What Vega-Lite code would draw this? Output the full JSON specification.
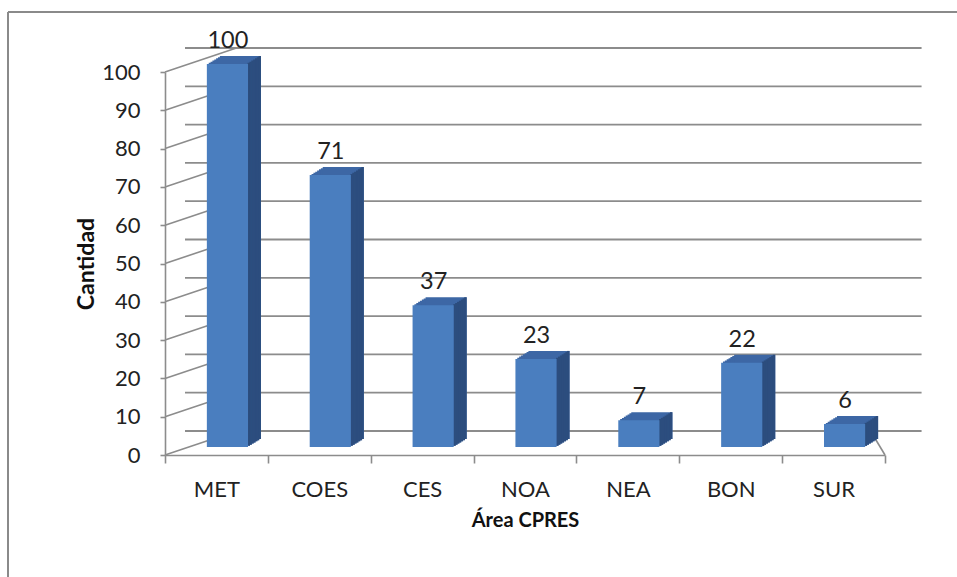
{
  "$schema": "https://vega.github.io/schema/vega-lite/v6.json",
  "width": 720,
  "height": 383,
  "autosize": {"type": "none"},
  "padding": {"left": 165, "top": 72, "right": 72, "bottom": 122},
  "background": "white",
  "config": {
    "view": {"stroke": null},
    "font": "Lato",
    "axis": {"labelFont": "Lato", "titleFont": "Lato", "labelColor": "#222222", "titleColor": "#111111"},
    "axisY": {"labelOverlap": false, "labelFontSize": 22}
  },
  "datasets": {
    "bars": [
      {"area": "MET", "n": 100},
      {"area": "COES", "n": 71},
      {"area": "CES", "n": 37},
      {"area": "NOA", "n": 23},
      {"area": "NEA", "n": 7},
      {"area": "BON", "n": 22},
      {"area": "SUR", "n": 6}
    ],
    "grid": [
      {"v": 0}, {"v": 10}, {"v": 20}, {"v": 30}, {"v": 40}, {"v": 50},
      {"v": 60}, {"v": 70}, {"v": 80}, {"v": 90}, {"v": 100}
    ],
    "one": [{"k": 1}]
  },
  "layer": [
    {
      "data": {"name": "grid"},
      "mark": {"type": "rule", "color": "#8c8c8c", "strokeWidth": 1.8, "xOffset": 20, "x2Offset": 88, "yOffset": -24},
      "encoding": {
        "x": {"datum": "MET", "type": "nominal", "bandPosition": 0},
        "x2": {"datum": "SUR"},
        "y": {"field": "v", "type": "quantitative"}
      }
    },
    {
      "data": {"name": "grid"},
      "mark": {"type": "rule", "color": "#8c8c8c", "strokeWidth": 1.6, "x2Offset": 20, "y2Offset": -24},
      "encoding": {
        "x": {"datum": "MET", "type": "nominal", "bandPosition": 0},
        "x2": {"datum": "MET"},
        "y": {"field": "v", "type": "quantitative"},
        "y2": {"field": "v"}
      }
    },
    {
      "data": {"name": "one"},
      "mark": {"type": "rule", "color": "#8c8c8c", "strokeWidth": 1.6, "x2Offset": 37, "y2Offset": -24},
      "encoding": {
        "x": {"datum": "SUR", "type": "nominal", "bandPosition": 1},
        "x2": {"datum": "SUR"},
        "y": {"datum": 0, "type": "quantitative"},
        "y2": {"datum": 0}
      }
    },
    {
      "data": {"name": "one"},
      "mark": {"type": "rule", "color": "#8a8a8a", "strokeWidth": 2, "xOffset": -157, "yOffset": -60, "y2Offset": 130},
      "encoding": {
        "x": {"datum": "MET", "type": "nominal", "bandPosition": 0},
        "y": {"datum": 100, "type": "quantitative"},
        "y2": {"datum": 0}
      }
    },
    {
      "data": {"name": "one"},
      "mark": {"type": "rule", "color": "#8a8a8a", "strokeWidth": 2, "xOffset": -157, "x2Offset": 200, "yOffset": -60},
      "encoding": {
        "x": {"datum": "MET", "type": "nominal", "bandPosition": 0},
        "x2": {"datum": "SUR"},
        "y": {"datum": 100, "type": "quantitative"}
      }
    },
    {
      "data": {"name": "bars"},
      "mark": {"type": "bar", "color": "#3d67a5", "width": {"band": 0.4}, "xOffset": 12.86, "yOffset": -9.14, "y2Offset": -9.14},
      "encoding": {"x": {"field": "area", "type": "nominal"}, "y": {"field": "n", "type": "quantitative"}, "y2": {"datum": 0}}
    },
    {
      "data": {"name": "bars"},
      "mark": {"type": "bar", "color": "#3d67a5", "width": {"band": 0.4}, "xOffset": 14.71, "yOffset": -10.29, "y2Offset": -10.29},
      "encoding": {"x": {"field": "area", "type": "nominal"}, "y": {"field": "n", "type": "quantitative"}, "y2": {"datum": 0}}
    },
    {
      "data": {"name": "bars"},
      "mark": {"type": "bar", "color": "#3d67a5", "width": {"band": 0.4}, "xOffset": 16.57, "yOffset": -11.43, "y2Offset": -11.43},
      "encoding": {"x": {"field": "area", "type": "nominal"}, "y": {"field": "n", "type": "quantitative"}, "y2": {"datum": 0}}
    },
    {
      "data": {"name": "bars"},
      "mark": {"type": "bar", "color": "#3d67a5", "width": {"band": 0.4}, "xOffset": 18.43, "yOffset": -12.57, "y2Offset": -12.57},
      "encoding": {"x": {"field": "area", "type": "nominal"}, "y": {"field": "n", "type": "quantitative"}, "y2": {"datum": 0}}
    },
    {
      "data": {"name": "bars"},
      "mark": {"type": "bar", "color": "#3d67a5", "width": {"band": 0.4}, "xOffset": 20.29, "yOffset": -13.71, "y2Offset": -13.71},
      "encoding": {"x": {"field": "area", "type": "nominal"}, "y": {"field": "n", "type": "quantitative"}, "y2": {"datum": 0}}
    },
    {
      "data": {"name": "bars"},
      "mark": {"type": "bar", "color": "#3d67a5", "width": {"band": 0.4}, "xOffset": 22.14, "yOffset": -14.86, "y2Offset": -14.86},
      "encoding": {"x": {"field": "area", "type": "nominal"}, "y": {"field": "n", "type": "quantitative"}, "y2": {"datum": 0}}
    },
    {
      "data": {"name": "bars"},
      "mark": {"type": "bar", "color": "#3d67a5", "width": {"band": 0.4}, "xOffset": 24, "yOffset": -16, "y2Offset": -16},
      "encoding": {"x": {"field": "area", "type": "nominal"}, "y": {"field": "n", "type": "quantitative"}, "y2": {"datum": 0}}
    },
    {
      "data": {"name": "bars"},
      "mark": {"type": "bar", "color": "#2c4d7e", "width": 2.4, "xOffset": 32.36, "yOffset": -9.14, "y2Offset": -9.14},
      "encoding": {"x": {"field": "area", "type": "nominal"}, "y": {"field": "n", "type": "quantitative"}, "y2": {"datum": 0}}
    },
    {
      "data": {"name": "bars"},
      "mark": {"type": "bar", "color": "#2c4d7e", "width": 2.4, "xOffset": 34.21, "yOffset": -10.29, "y2Offset": -10.29},
      "encoding": {"x": {"field": "area", "type": "nominal"}, "y": {"field": "n", "type": "quantitative"}, "y2": {"datum": 0}}
    },
    {
      "data": {"name": "bars"},
      "mark": {"type": "bar", "color": "#2c4d7e", "width": 2.4, "xOffset": 36.07, "yOffset": -11.43, "y2Offset": -11.43},
      "encoding": {"x": {"field": "area", "type": "nominal"}, "y": {"field": "n", "type": "quantitative"}, "y2": {"datum": 0}}
    },
    {
      "data": {"name": "bars"},
      "mark": {"type": "bar", "color": "#2c4d7e", "width": 2.4, "xOffset": 37.93, "yOffset": -12.57, "y2Offset": -12.57},
      "encoding": {"x": {"field": "area", "type": "nominal"}, "y": {"field": "n", "type": "quantitative"}, "y2": {"datum": 0}}
    },
    {
      "data": {"name": "bars"},
      "mark": {"type": "bar", "color": "#2c4d7e", "width": 2.4, "xOffset": 39.79, "yOffset": -13.71, "y2Offset": -13.71},
      "encoding": {"x": {"field": "area", "type": "nominal"}, "y": {"field": "n", "type": "quantitative"}, "y2": {"datum": 0}}
    },
    {
      "data": {"name": "bars"},
      "mark": {"type": "bar", "color": "#2c4d7e", "width": 2.4, "xOffset": 41.64, "yOffset": -14.86, "y2Offset": -14.86},
      "encoding": {"x": {"field": "area", "type": "nominal"}, "y": {"field": "n", "type": "quantitative"}, "y2": {"datum": 0}}
    },
    {
      "data": {"name": "bars"},
      "mark": {"type": "bar", "color": "#2c4d7e", "width": 2.4, "xOffset": 43.3, "yOffset": -16, "y2Offset": -16},
      "encoding": {"x": {"field": "area", "type": "nominal"}, "y": {"field": "n", "type": "quantitative"}, "y2": {"datum": 0}}
    },
    {
      "data": {"name": "bars"},
      "mark": {"type": "bar", "color": "#4a7ebf", "width": {"band": 0.4}, "xOffset": 11, "yOffset": -8, "y2Offset": -8},
      "encoding": {
        "x": {
          "field": "area", "type": "nominal",
          "scale": {"domain": ["MET", "COES", "CES", "NOA", "NEA", "BON", "SUR"], "paddingInner": 0, "paddingOuter": 0},
          "axis": {
            "title": "Área CPRES", "titleFontSize": 20, "titleFontWeight": "bold", "titlePadding": 10,
            "labelFontSize": 22, "labelAngle": 0, "labelAlign": "center", "labelPadding": 26,
            "domainColor": "#8c8c8c", "domainWidth": 1.6, "tickColor": "#8c8c8c", "tickWidth": 1.6, "tickSize": 8,
            "tickBand": "extent"
          }
        },
        "y": {
          "field": "n", "type": "quantitative",
          "scale": {"domain": [0, 100], "nice": false},
          "axis": {
            "title": "Cantidad", "titleFontSize": 23, "titleFontWeight": "bold", "titlePadding": 3,
            "labelFontSize": 22, "labelPadding": 20, "labelOverlap": false, "tickCount": 11, "values": [0, 10, 20, 30, 40, 50, 60, 70, 80, 90, 100],
            "grid": false,
            "domainColor": "#8c8c8c", "domainWidth": 1.6, "tickColor": "#8c8c8c", "tickWidth": 1.6, "tickSize": 5
          }
        },
        "y2": {"datum": 0}
      }
    },
    {
      "data": {"name": "bars"},
      "mark": {"type": "text", "fontSize": 23.5, "color": "#222222", "baseline": "alphabetic", "xOffset": 11.5, "yOffset": -24},
      "encoding": {
        "x": {"field": "area", "type": "nominal"},
        "y": {"field": "n", "type": "quantitative"},
        "text": {"field": "n", "type": "quantitative"}
      }
    }
  ]
}
